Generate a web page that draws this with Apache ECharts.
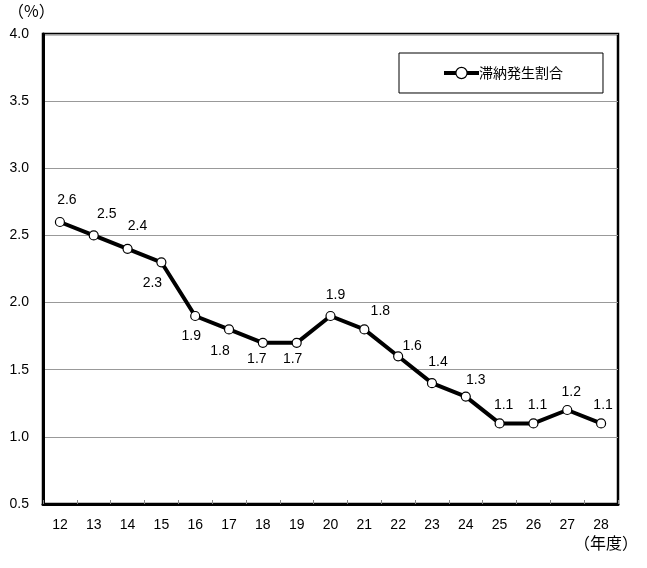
<!DOCTYPE html>
<html>
<head>
<meta charset="utf-8">
<script src="https://cdn.jsdelivr.net/npm/echarts@6/dist/echarts.min.js"></script>
<style>html,body{margin:0;padding:0;background:#fff;}#c{width:647px;height:568px;}</style>
</head>
<body>
<div id="c"></div>
<script>
const categories = ['12','13','14','15','16','17','18','19','20','21','22','23','24','25','26','27','28'];
const rates = [2.6, 2.5, 2.4, 2.3, 1.9, 1.8, 1.7, 1.7, 1.9, 1.8, 1.6, 1.4, 1.3, 1.1, 1.1, 1.2, 1.1];
const seriesName = '滞納発生割合';
const yUnit = '（%）';
const xUnit = '（年度）';

// label placement offsets relative to each point (style only)
const labelOffsets = [[7,-22],[13,-21],[10,-23],[-9,21],[-4,20],[-9,22],[-6,16],[-4,16],[5,-21],[16,-18],[14,-10],[6,-21],[10,-16],[4,-18],[4,-18],[4,-18],[2,-18]];

const FONT = "'Liberation Sans', Arial, 'Noto Sans CJK JP', sans-serif";
const chart = echarts.init(document.getElementById('c'));
chart.setOption({
  animation: false,
  backgroundColor: '#fff',
  textStyle: { fontFamily: FONT },
  grid: { left: 43, right: 29, top: 34, bottom: 64, show: true, borderColor: '#000', borderWidth: 2.5, containLabel: false },
  legend: {
    data: [seriesName],
    left: 399, top: 53,
    padding: [13, 40, 13, 43],
    borderColor: '#000', borderWidth: 1,
    itemWidth: 35, itemHeight: 14,
    lineStyle: { width: 4, color: '#000' },
    itemStyle: { color: '#fff', borderColor: '#000', borderWidth: 1.2 },
    textStyle: { fontFamily: "'Noto Sans CJK JP', sans-serif", fontSize: 14, color: '#000', padding: [0,0,0,-5] }
  },
  graphic: [
    { type: 'text', left: 8, top: 3, style: { text: yUnit, font: "16px 'Noto Sans CJK JP', sans-serif", fill: '#000' } },
    { type: 'text', left: 574, top: 535, style: { text: xUnit, font: "16px 'Noto Sans CJK JP', sans-serif", fill: '#000' } }
  ],
  xAxis: {
    type: 'category',
    data: categories,
    boundaryGap: true,
    axisLine: { lineStyle: { color: '#000', width: 3 } },
    axisTick: { show: true, inside: true, length: 4, lineStyle: { color: '#888', width: 1 } },
    axisLabel: { color: '#000', fontSize: 14, margin: 14, fontFamily: FONT }
  },
  yAxis: {
    type: 'value',
    min: 0.5, max: 4.0, interval: 0.5,
    axisLine: { show: true, lineStyle: { color: '#000', width: 3 } },
    axisTick: { show: false },
    axisLabel: { color: '#000', fontSize: 14, margin: 14, fontFamily: FONT, formatter: v => v.toFixed(1) },
    splitLine: { show: true, lineStyle: { color: '#999', width: 1.2 } }
  },
  series: [{
    name: seriesName,
    type: 'line',
    data: rates.map((v, i) => ({
      value: v,
      label: { offset: labelOffsets[i] }
    })),
    lineStyle: { color: '#000', width: 4 },
    itemStyle: { color: '#fff', borderColor: '#000', borderWidth: 1.2 },
    symbol: 'circle',
    symbolSize: 9,
    showAllSymbol: true,
    label: {
      show: true,
      position: 'inside',
      align: 'center',
      verticalAlign: 'middle',
      color: '#000',
      fontSize: 14,
      fontFamily: FONT,
      formatter: p => p.value.toFixed(1)
    },
    z: 5
  }]
});
</script>
</body>
</html>
